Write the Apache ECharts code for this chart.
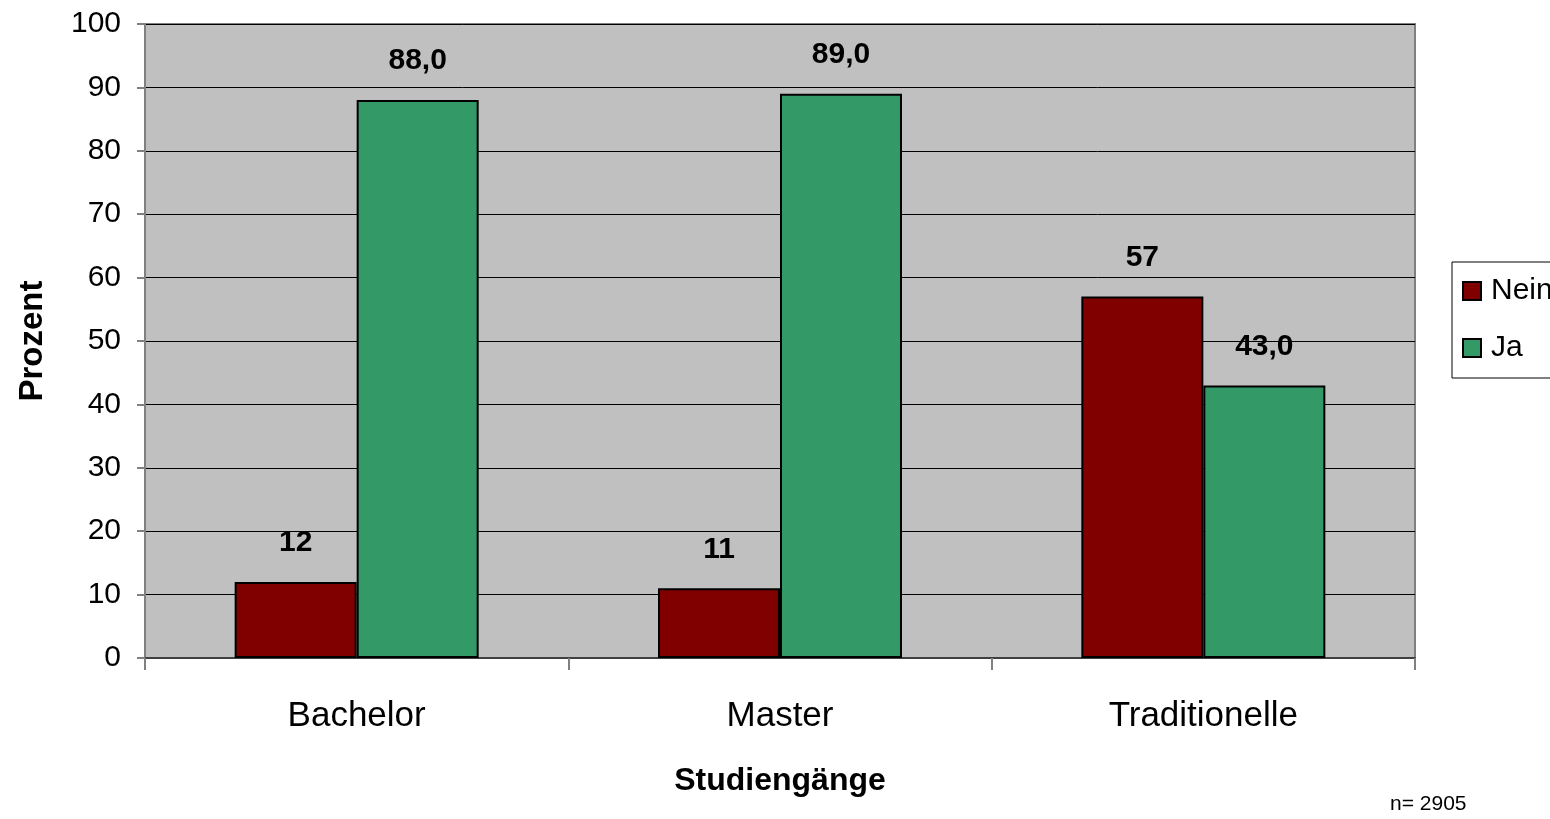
<!DOCTYPE html>
<html>
<head>
<meta charset="utf-8">
<script src="https://cdn.jsdelivr.net/npm/echarts@6/dist/echarts.min.js"></script>
<style>
html,body{margin:0;padding:0;background:#fff;}
#chart{width:1550px;height:819px;}
</style>
</head>
<body>
<div id="chart"></div>
<script>
var categories = ['Bachelor', 'Master', 'Traditionelle'];
var neinValues = [12, 11, 57];
var jaValues = [88.0, 89.0, 43.0];
var seriesNames = ['Nein', 'Ja'];
var yTicks = { min: 0, max: 100, interval: 10 };
var noteText = 'n= 2905';

var FONT = '"Liberation Sans", Arial, sans-serif';
var chart = echarts.init(document.getElementById('chart'));

function labelStyle(fmt) {
  return {
    show: true, position: 'top', distance: 24,
    fontFamily: FONT, fontSize: 30, fontWeight: 'bold', color: '#000',
    formatter: fmt
  };
}

chart.setOption({
  animation: false,
  backgroundColor: '#fff',
  textStyle: { fontFamily: FONT },
  grid: {
    left: 145, right: 135, top: 24, bottom: 161,
    show: true, backgroundColor: '#C0C0C0', borderColor: '#808080', borderWidth: 2
  },
  legend: {
    orient: 'vertical',
    left: 1452, top: 262,
    padding: [14, 40, 15, 10],
    itemGap: 27,
    itemWidth: 18, itemHeight: 18,
    icon: 'rect',
    borderColor: '#000', borderWidth: 1,
    backgroundColor: '#fff',
    textStyle: { fontFamily: FONT, fontSize: 30, color: '#000', padding: [0, 0, 0, 5] },
    data: seriesNames
  },
  xAxis: {
    type: 'category',
    data: categories,
    name: 'Studiengänge',
    nameLocation: 'middle',
    nameGap: 107,
    nameTextStyle: { fontFamily: FONT, fontSize: 32, fontWeight: 'bold', color: '#000' },
    axisLine: { show: true, lineStyle: { color: '#404040', width: 2 } },
    axisTick: { show: true, length: 12, lineStyle: { color: '#808080', width: 2 } },
    axisLabel: { fontFamily: FONT, fontSize: 35, color: '#000', margin: 41 }
  },
  yAxis: {
    type: 'value',
    min: yTicks.min, max: yTicks.max, interval: yTicks.interval,
    name: 'Prozent',
    nameLocation: 'middle',
    nameGap: 96,
    nameRotate: 90,
    nameTextStyle: { fontFamily: FONT, fontSize: 33, fontWeight: 'bold', color: '#000' },
    axisLine: { show: true, lineStyle: { color: '#808080', width: 2 } },
    axisTick: { show: true, length: 8, lineStyle: { color: '#808080', width: 2 } },
    axisLabel: { fontFamily: FONT, fontSize: 30, color: '#000', margin: 24 },
    splitLine: { show: true, lineStyle: { color: '#000', width: 1 } }
  },
  series: [
    {
      name: seriesNames[0], type: 'bar', data: neinValues,
      barWidth: 122, barGap: '0%',
      itemStyle: { color: '#800000', borderColor: '#000', borderWidth: 2 },
      label: labelStyle(function (p) { return String(Math.round(p.value)); })
    },
    {
      name: seriesNames[1], type: 'bar', data: jaValues,
      barWidth: 122, barGap: '0%',
      itemStyle: { color: '#339966', borderColor: '#000', borderWidth: 2 },
      label: labelStyle(function (p) { return p.value.toFixed(1).replace('.', ','); })
    }
  ],
  graphic: [
    {
      type: 'text', left: 1390, top: 794,
      style: { text: noteText, fontFamily: FONT, fontSize: 21, fill: '#000' }
    }
  ]
});
</script>
</body>
</html>
